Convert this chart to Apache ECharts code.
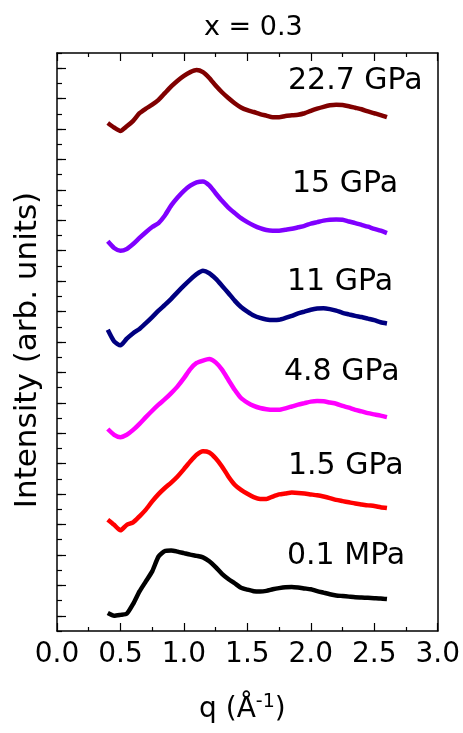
<!DOCTYPE html>
<html>
<head>
<meta charset="utf-8">
<script src="https://cdn.jsdelivr.net/npm/echarts@6/dist/echarts.min.js"></script>
<style>
  html, body { margin: 0; background: #fff; }
  #chart { width: 463px; height: 733px; }
</style>
</head>
<body>
<div id="chart"></div>
<script>
// q values (1/Å)
const q = [0.40, 0.45, 0.50, 0.55, 0.60, 0.65, 0.70, 0.75, 0.80, 0.85, 0.90, 0.95, 1.00, 1.05, 1.10,
  1.15, 1.20, 1.25, 1.30, 1.35, 1.40, 1.45, 1.50, 1.55, 1.60, 1.65, 1.70, 1.75, 1.80, 1.85, 1.90,
  1.95, 2.00, 2.05, 2.10, 2.15, 2.20, 2.25, 2.30, 2.35, 2.40, 2.45, 2.50, 2.55, 2.60];

// intensities, already shifted upward for stacking
const i01MPa = [0.09, 0.00, 0.03, 0.07, 0.39, 0.80, 1.13, 1.46, 1.95, 2.13, 2.15, 2.11, 2.06, 2.01, 1.97,
  1.92, 1.79, 1.60, 1.38, 1.21, 1.07, 0.92, 0.86, 0.81, 0.80, 0.82, 0.87, 0.91, 0.94, 0.95, 0.93,
  0.90, 0.87, 0.81, 0.76, 0.71, 0.67, 0.65, 0.63, 0.61, 0.60, 0.59, 0.58, 0.57, 0.55];
const i15GPa = [3.16, 2.99, 2.81, 2.99, 3.07, 3.27, 3.49, 3.76, 4.00, 4.20, 4.38, 4.58, 4.82, 5.07, 5.29,
  5.41, 5.37, 5.18, 4.91, 4.58, 4.31, 4.14, 4.01, 3.90, 3.84, 3.84, 3.92, 3.99, 4.02, 4.05, 4.04,
  4.02, 3.99, 3.96, 3.92, 3.87, 3.81, 3.77, 3.73, 3.69, 3.66, 3.63, 3.61, 3.57, 3.54];
const i48GPa = [6.14, 5.95, 5.87, 5.95, 6.11, 6.31, 6.53, 6.74, 6.94, 7.12, 7.32, 7.54, 7.81, 8.11, 8.31,
  8.39, 8.44, 8.33, 8.09, 7.76, 7.43, 7.16, 7.01, 6.90, 6.83, 6.79, 6.77, 6.77, 6.82, 6.88, 6.94,
  6.99, 7.04, 7.06, 7.05, 7.01, 6.97, 6.90, 6.84, 6.77, 6.72, 6.66, 6.62, 6.58, 6.53];
const i11GPa = [9.40, 9.02, 8.89, 9.11, 9.29, 9.43, 9.62, 9.82, 10.03, 10.22, 10.42, 10.64, 10.85, 11.05, 11.23,
  11.34, 11.26, 11.08, 10.85, 10.61, 10.36, 10.15, 10.00, 9.87, 9.79, 9.74, 9.72, 9.73, 9.79, 9.86, 9.94,
  10.00, 10.06, 10.10, 10.11, 10.08, 10.03, 9.96, 9.91, 9.86, 9.82, 9.77, 9.72, 9.65, 9.61];
const i15GPaHigh = [12.31, 12.09, 12.00, 12.06, 12.22, 12.42, 12.61, 12.78, 12.91, 13.16, 13.49, 13.75, 13.97, 14.14, 14.25,
  14.28, 14.15, 13.89, 13.64, 13.42, 13.24, 13.07, 12.94, 12.83, 12.74, 12.68, 12.66, 12.66, 12.69, 12.72, 12.77,
  12.82, 12.89, 12.94, 12.99, 13.02, 13.03, 13.02, 12.96, 12.91, 12.85, 12.79, 12.72, 12.66, 12.58];
const i227GPa = [16.20, 16.05, 15.94, 16.09, 16.27, 16.52, 16.67, 16.80, 16.96, 17.18, 17.40, 17.59, 17.75, 17.87, 17.94,
  17.87, 17.68, 17.43, 17.21, 17.02, 16.85, 16.71, 16.62, 16.56, 16.49, 16.44, 16.39, 16.39, 16.43, 16.45, 16.47,
  16.52, 16.60, 16.67, 16.73, 16.78, 16.80, 16.79, 16.75, 16.70, 16.65, 16.58, 16.52, 16.46, 16.39];

const names = ["0.1 MPa", "1.5 GPa", "4.8 GPa", "11 GPa", "15 GPa", "22.7 GPa"];
const curves = [i01MPa, i15GPa, i48GPa, i11GPa, i15GPaHigh, i227GPa];
const colors = ["#000000", "#ff0000", "#ff00ff", "#000080", "#8000ff", "#800000"];
// y ticks: major every 1, minor every 0.5
const majorTicks = [0, 1, 2, 3, 4, 5, 6, 7, 8, 9, 10, 11, 12, 13, 14, 15, 16, 17, 18];

const FONT = "DejaVu Sans";

const chart = echarts.init(document.getElementById("chart"));

// label anchor points (pixels) for the pressure tags
const tagPos = [[287, 556], [288, 466], [284, 372], [287, 282], [292, 184], [288, 81]];

const tickStyle = { color: "#000", width: 1.2 };

const option = {
  animation: false,
  backgroundColor: "#fff",
  title: {
    text: "x = 0.3",
    left: 199,
    top: 9,
    textStyle: { fontFamily: FONT, fontSize: 27, fontWeight: "normal", color: "#000" },
  },
  grid: { left: 57, right: 23, top: 53, bottom: 102 },
  xAxis: [
    {
      type: "value",
      min: 0,
      max: 3,
      interval: 0.5,
      name: "q (Å{sup|-1})",
      nameLocation: "middle",
      nameGap: 62,
      nameTextStyle: {
        fontFamily: FONT,
        fontSize: 28,
        color: "#000",
        padding: [0, 10, 0, 0],
        rich: { sup: { fontFamily: FONT, fontSize: 19, color: "#000", verticalAlign: "top", padding: [0, 0, 14, 0] } },
      },
      axisLine: { onZero: false, lineStyle: { color: "#000", width: 1.5 } },
      axisTick: { inside: true, length: 8, lineStyle: tickStyle },
      minorTick: { show: true, splitNumber: 2, length: 4, lineStyle: tickStyle },
      axisLabel: {
        fontFamily: FONT,
        fontSize: 28,
        color: "#000",
        margin: 10,
        formatter: (v) => v.toFixed(1),
      },
      splitLine: { show: false },
    },
    {
      type: "value",
      position: "top",
      min: 0,
      max: 3,
      interval: 0.5,
      axisLine: { onZero: false, lineStyle: { color: "#000", width: 1.5 } },
      axisTick: { inside: true, length: 8, lineStyle: tickStyle },
      minorTick: { show: true, splitNumber: 2, length: 4, lineStyle: tickStyle },
      axisLabel: { show: false },
      splitLine: { show: false },
    },
  ],
  yAxis: [
    {
      type: "value",
      min: -0.5,
      max: 18.5,
      interval: 0.5,
      axisLine: { show: true, onZero: false, lineStyle: { color: "#000", width: 1.5 } },
      axisTick: { inside: true, length: 5, lineStyle: tickStyle },
      axisLabel: { show: false },
      splitLine: { show: false },
    },
    {
      type: "value",
      position: "left",
      min: -0.5,
      max: 18.5,
      axisLine: { show: false, onZero: false },
      axisTick: { inside: true, length: 9, customValues: majorTicks, lineStyle: tickStyle },
      axisLabel: { show: false },
      splitLine: { show: false },
    },
    {
      type: "value",
      position: "right",
      min: -0.5,
      max: 18.5,
      axisLine: { show: true, onZero: false, lineStyle: { color: "#000", width: 1.5 } },
      axisTick: { show: false },
      axisLabel: { show: false },
      splitLine: { show: false },
    },
  ],
  graphic: [
    {
      type: "text",
      x: 28,
      y: 350,
      rotation: Math.PI / 2,
      style: {
        text: "Intensity (arb. units)",
        font: "31px '" + FONT + "'",
        fill: "#000",
        align: "center",
        verticalAlign: "middle",
      },
    },
  ].concat(
    names.map((n, i) => ({
      type: "text",
      x: tagPos[i][0],
      y: tagPos[i][1],
      style: {
        text: n,
        font: "30px '" + FONT + "'",
        fill: "#000",
        align: "left",
        verticalAlign: "middle",
      },
    }))
  ),
  series: curves.map((vals, i) => ({
    name: names[i],
    type: "line",
    data: q.map((x, j) => [x, vals[j]]),
    showSymbol: false,
    smooth: 0.2,
    lineStyle: { color: colors[i], width: 4.5 },
    itemStyle: { color: colors[i] },
  })),
};

chart.setOption(option);
</script>
</body>
</html>
